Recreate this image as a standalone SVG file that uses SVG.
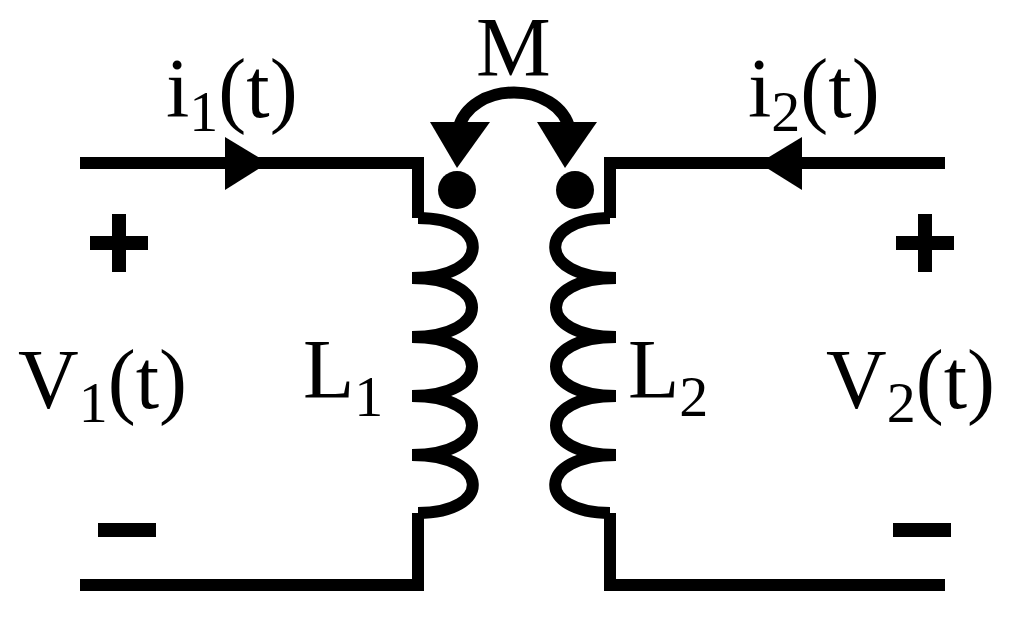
<svg xmlns="http://www.w3.org/2000/svg" width="1027" height="623" viewBox="0 0 1027 623">
<style>
.w{fill:none;stroke:#000;stroke-width:12;stroke-linejoin:miter}
.t{font-family:"Liberation Serif",serif;font-size:84px;fill:#000}
.s{font-size:58px}
</style>
<rect width="1027" height="623" fill="#fff"/>
<g id="connectors">
<path class="w" d="M80 163H418V218M418 513V585H80"/>
<path class="w" d="M945 163H610V218M610 513V585H945"/>
<path class="w" d="M418 218C492 218 492 278 412 278C492 278 492 337 412 337C492 337 492 396 412 396C492 396 492 455 412 455C492 455 492 513 418 513"/>
<path class="w" d="M610 218C536 218 536 278 616 278C536 278 536 337 616 337C536 337 536 396 616 396C536 396 536 455 616 455C536 455 536 513 610 513"/>
<polygon points="225,137 268,163 225,190"/>
<polygon points="802,137 759,163 802,190"/>
<path class="w" d="M458 130C470 80 558 80 570 130" stroke-width="11"/>
<polygon points="430,122 490,122 457,168"/>
<polygon points="537,122 597,122 565,168"/>
<circle cx="457" cy="190" r="19"/>
<circle cx="575" cy="190" r="19"/>
<path d="M90 243H148M119 214V272M896 243H954M925 214V272" stroke="#000" stroke-width="14"/>
<path d="M98 530H156M893 530H951" stroke="#000" stroke-width="14"/>
</g>
<g id="labels">
<text class="t" x="476" y="76">M</text>
<text class="t" x="166" y="117">i<tspan class="s" dy="14">1</tspan><tspan dy="-14">(t)</tspan></text>
<text class="t" x="748" y="117">i<tspan class="s" dy="14">2</tspan><tspan dy="-14">(t)</tspan></text>
<text class="t" x="18" y="408">V<tspan class="s" dy="14">1</tspan><tspan dy="-14">(t)</tspan></text>
<text class="t" x="826" y="408">V<tspan class="s" dy="14">2</tspan><tspan dy="-14">(t)</tspan></text>
<text class="t" x="303" y="398">L<tspan class="s" dy="18">1</tspan></text>
<text class="t" x="628" y="398">L<tspan class="s" dy="18">2</tspan></text>
</g>
</svg>
